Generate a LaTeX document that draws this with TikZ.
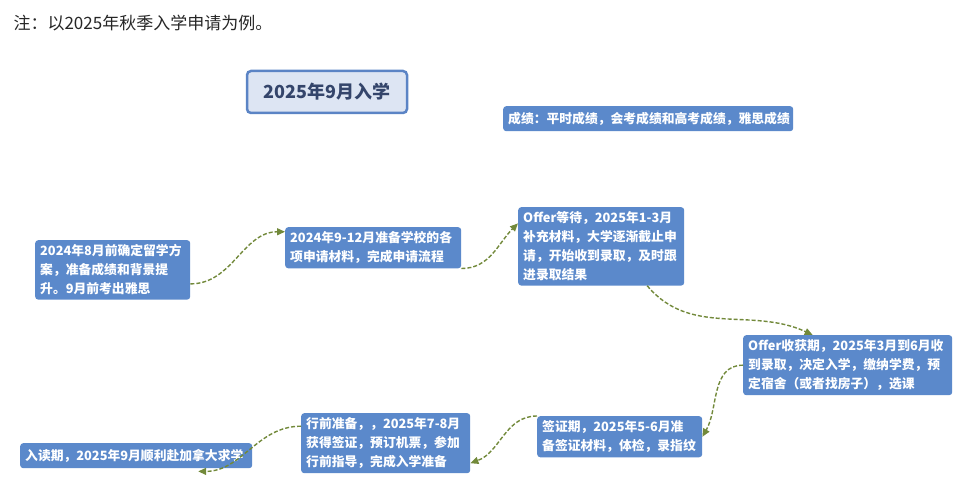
\documentclass[tikz,border=0pt]{standalone}
\usepackage{fontspec}
\setmainfont{Noto Sans CJK SC}
\usetikzlibrary{arrows.meta}
\definecolor{stageblue}{HTML}{5B89CB}
\definecolor{titlefill}{HTML}{DDE5F3}
\definecolor{titleline}{HTML}{5B84C5}
\definecolor{titletext}{HTML}{34456B}
\definecolor{linkgreen}{HTML}{72893A}

\begin{document}
\begin{tikzpicture}[x=1pt, y=1pt,
    stage/.style ={rectangle, rounded corners=3pt, fill=stageblue, text=white,
      font=\fontsize{12.8}{19}\selectfont\bfseries, align=left, anchor=north west,
      inner xsep=5pt, inner ysep=4.5pt},
    link/.style ={linkgreen, line width=1.4pt, dash pattern=on 4pt off 2pt,
      -{Triangle[length=8pt,width=7pt]}}]
   \useasboundingbox (0,0) rectangle (975,500);
   \node[anchor=west, text=black!85, font=\fontsize{17}{20}\selectfont] (note) at (10,477) {注：以2025年秋季入学申请为例。};
   \node[draw=titleline, line width=2.5pt, fill=titlefill, rounded corners=4pt,
      minimum width=160pt, minimum height=42pt, text=titletext,
      font=\fontsize{18}{20}\selectfont\bfseries] (title) at (327,408) {2025年9月入学};
   \node[stage, text width=280pt, minimum height=25pt] (grades) at (503,394) {成绩：平时成绩，会考成绩和高考成绩，雅思成绩};
   \node[stage, text width=145pt] (A) at (35,260) {2024年8月前确定留学方\\案，准备成绩和背景提\\升。9月前考出雅思};
   \node[stage, text width=166pt] (B) at (285,273) {2024年9-12月准备学校的各\\项申请材料，完成申请流程};
   \node[stage, text width=156pt] (C) at (518,293) {Offer等待，2025年1-3月\\补充材料，大学逐渐截止申\\请，开始收到录取，及时跟\\进录取结果};
   \node[stage, text width=199pt] (D) at (743,165) {Offer收获期，2025年3月到6月收\\到录取，决定入学，缴纳学费，预\\定宿舍（或者找房子），选课};
   \node[stage, text width=155pt] (E) at (537,84) {签证期，2025年5-6月准\\备签证材料，体检，录指纹};
   \node[stage, text width=159pt] (F) at (301,87) {行前准备，，2025年7-8月\\获得签证，预订机票，参加\\行前指导，完成入学准备};
   \node[stage, text width=222pt, minimum height=25pt] (G) at (20,57) {入读期，2025年9月顺利赴加拿大求学};
   \draw[link] ([yshift=-14pt]A.east) to[out=0,in=180] ([yshift=16pt]B.west);
   \draw[link] (B.south east) to[out=0,in=225] ([yshift=23pt]C.west);
   \draw[link] ([xshift=46pt]C.south) to[out=-50,in=155] ([xshift=-35pt]D.north);
   \draw[link] (D.west) to[out=180,in=60] (E.east);
   \draw[link] (E.north west) to[out=180,in=20] ([yshift=-20pt]F.east);
   \draw[link] ([yshift=17pt]F.west) to[out=180,in=0] ([xshift=62pt,yshift=-3pt]G.south);
\end{tikzpicture}
\end{document}
